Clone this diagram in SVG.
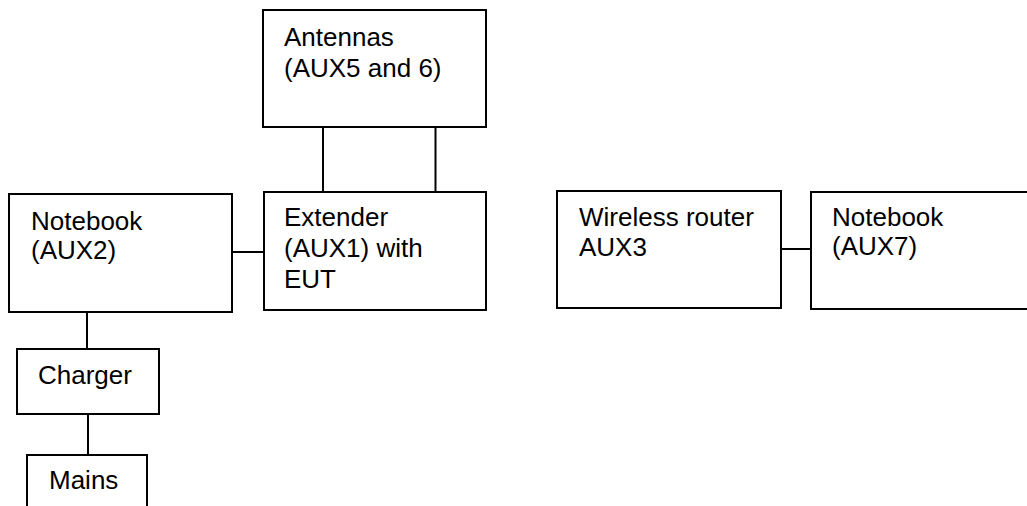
<svg xmlns="http://www.w3.org/2000/svg" width="1027" height="506" viewBox="0 0 1027 506">
<style>
.box{fill:#fff;stroke:#000;stroke-width:2}
.ln{stroke:#000;stroke-width:2;fill:none}
text{font-family:"Liberation Sans",Arial,sans-serif;font-size:26px;fill:#000}
</style>
<rect width="1027" height="506" fill="#fff"/>
<g id="connectors">
<line class="ln" x1="323" y1="127" x2="323" y2="192"/>
<line class="ln" x1="435.5" y1="127" x2="435.5" y2="192"/>
<line class="ln" x1="232" y1="252" x2="264" y2="252"/>
<line class="ln" x1="87" y1="312" x2="87" y2="349"/>
<line class="ln" x1="88" y1="414" x2="88" y2="455"/>
<line class="ln" x1="781" y1="249" x2="811" y2="249"/>
</g>
<g id="antennas">
<rect class="box" x="263" y="10" width="223" height="117"/>
<text x="284" y="46">Antennas</text>
<text x="284" y="77">(AUX5 and 6)</text>
</g>
<g id="notebook-aux2">
<rect class="box" x="9" y="194" width="223" height="118"/>
<text x="31" y="230">Notebook</text>
<text x="31" y="259">(AUX2)</text>
</g>
<g id="extender">
<rect class="box" x="264" y="192" width="222" height="118"/>
<text x="284" y="226">Extender</text>
<text x="284" y="257">(AUX1) with</text>
<text x="284" y="288">EUT</text>
</g>
<g id="charger">
<rect class="box" x="17" y="349" width="142" height="65"/>
<text x="38" y="384">Charger</text>
</g>
<g id="mains">
<rect class="box" x="27" y="455" width="120" height="70"/>
<text x="49" y="489">Mains</text>
</g>
<g id="wireless-router">
<rect class="box" x="557" y="191" width="224" height="117"/>
<text x="579" y="226">Wireless router</text>
<text x="579" y="256">AUX3</text>
</g>
<g id="notebook-aux7">
<rect class="box" x="811" y="192" width="230" height="117"/>
<text x="832" y="226">Notebook</text>
<text x="832" y="255">(AUX7)</text>
</g>
</svg>
